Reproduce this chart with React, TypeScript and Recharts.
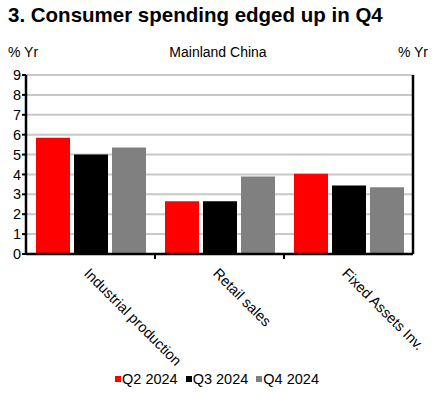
import React from 'react';
import { BarChart, Bar, XAxis, YAxis, CartesianGrid, Legend } from 'recharts';

const categories = ['Industrial production', 'Retail sales', 'Fixed Assets Inv.'];
const q2_2024 = [5.85, 2.65, 4.03];
const q3_2024 = [5.0, 2.65, 3.45];
const q4_2024 = [5.35, 3.9, 3.35];
const yTicks = [0, 1, 2, 3, 4, 5, 6, 7, 8, 9];
const seriesNames = ['Q2 2024', 'Q3 2024', 'Q4 2024'];
const seriesColors = ['#ff0000', '#000000', '#808080'];

const data = categories.map((c, i) => ({
  name: c,
  q2: q2_2024[i],
  q3: q3_2024[i],
  q4: q4_2024[i],
}));

const FONT = '"Liberation Sans", Arial, sans-serif';

const XTick = (props: any) => {
  const { x, y, payload, index } = props;
  const band = 387 / 3;
  return (
    <g>
      {index < categories.length - 1 && (
        <line x1={x + band / 2} x2={x + band / 2} y1={y - 8} y2={y - 3} stroke="#000" strokeWidth={2} />
      )}
      <text
        x={x}
        y={y + 5}
        transform={`rotate(45, ${x}, ${y + 5})`}
        textAnchor="start"
        dominantBaseline="hanging"
        fontSize={14.5}
        fontFamily={FONT}
        fill="#000"
      >
        {payload.value}
      </text>
    </g>
  );
};

const LegendContent = () => (
  <div style={{ display: 'flex', justifyContent: 'center', fontFamily: FONT, fontSize: 14.5, color: '#000', paddingTop: 8, paddingLeft: 6 }}>
    {seriesNames.map((n, i) => (
      <span key={n} style={{ display: 'flex', alignItems: 'center', marginRight: 8 }}>
        <span style={{ width: 6, height: 6, background: seriesColors[i], display: 'inline-block', marginRight: 1 }} />
        {n}
      </span>
    ))}
  </div>
);

export default function App() {
  return (
    <div style={{ position: 'absolute', left: 0, top: 0, width: 436, height: 393, background: '#fff', fontFamily: FONT }}>
      <div style={{ position: 'absolute', left: 8, top: 3, fontSize: 20.5, fontWeight: 'bold', color: '#000', whiteSpace: 'nowrap' }}>
        3. Consumer spending edged up in Q4
      </div>
      <div style={{ position: 'absolute', left: 8, top: 44, fontSize: 14, color: '#000' }}>% Yr</div>
      <div style={{ position: 'absolute', left: 0, width: 436, textAlign: 'center', top: 44, fontSize: 14, color: '#000' }}>Mainland China</div>
      <div style={{ position: 'absolute', right: 8, top: 44, fontSize: 14, color: '#000' }}>% Yr</div>
      <BarChart
        width={436}
        height={393}
        data={data}
        margin={{ top: 75, right: 0, bottom: 0, left: 0 }}
        barCategoryGap={10}
        barGap={4}
      >
        <CartesianGrid vertical={false} stroke="#c8c8c8" strokeWidth={2} yAxisId="left" />
        <XAxis
          dataKey="name"
          height={109}
          interval={0}
          tick={<XTick />}
          tickLine={false}
          axisLine={{ stroke: '#000', strokeWidth: 2.5 }}
        />
        <YAxis
          yAxisId="left"
          orientation="left"
          width={26}
          domain={[0, 9]}
          ticks={yTicks}
          interval={0}
          tickSize={4}
          tickLine={{ stroke: '#000', strokeWidth: 2 }}
          axisLine={{ stroke: '#000', strokeWidth: 2.5 }}
          tick={{ fontSize: 14.5, fill: '#000', fontFamily: FONT }}
          tickMargin={1}
        />
        <YAxis
          yAxisId="right"
          orientation="right"
          width={23}
          domain={[0, 9]}
          ticks={yTicks}
          interval={0}
          tickSize={4}
          tickLine={{ stroke: '#000', strokeWidth: 2 }}
          axisLine={{ stroke: '#000', strokeWidth: 2.5 }}
          tick={{ fontSize: 14.5, fill: '#000', fontFamily: FONT }}
          tickMargin={1}
        />
        <Legend verticalAlign="bottom" height={30} content={<LegendContent />} />
        <Bar yAxisId="left" dataKey="q2" name={seriesNames[0]} fill={seriesColors[0]} isAnimationActive={false} />
        <Bar yAxisId="left" dataKey="q3" name={seriesNames[1]} fill={seriesColors[1]} isAnimationActive={false} />
        <Bar yAxisId="left" dataKey="q4" name={seriesNames[2]} fill={seriesColors[2]} isAnimationActive={false} />
      </BarChart>
    </div>
  );
}
